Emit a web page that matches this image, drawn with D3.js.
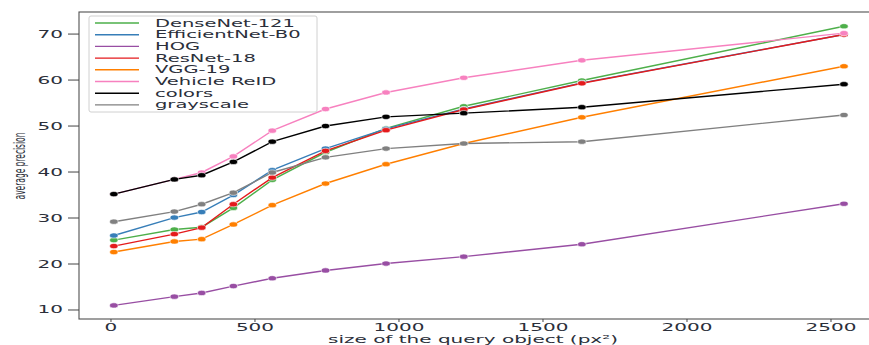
<!DOCTYPE html>
<html>
<head>
<meta charset="utf-8">
<script src="https://cdn.jsdelivr.net/npm/d3@7"></script>
<style>
  body { margin: 0; background: #fff; }
  text { font-family: "DejaVu Sans", sans-serif; fill: #2b2f3a; }
</style>
</head>
<body>
<script>
// query object sizes (px^2)
var sizes = [10, 220, 315, 425, 560, 745, 955, 1225, 1635, 2545];

var seriesNames = ["DenseNet-121", "EfficientNet-B0", "HOG", "ResNet-18", "VGG-19", "Vehicle ReID", "colors", "grayscale"];
var seriesColors = ["#4daf4a", "#377eb8", "#984ea3", "#e41a1c", "#ff7f00", "#f781bf", "#000000", "#808080"];

var denseNet = [25.2, 27.5, 28.0, 32.2, 38.3, 44.3, 49.5, 54.3, 59.9, 71.7];
var efficientNet = [26.2, 30.1, 31.3, 35.0, 40.4, 45.1, 49.4, 53.7, 59.4, 69.9];
var hog = [11.0, 12.9, 13.7, 15.2, 16.9, 18.6, 20.1, 21.6, 24.3, 33.1];
var resNet = [23.9, 26.5, 27.9, 33.0, 38.8, 44.6, 49.1, 53.6, 59.3, 69.9];
var vgg = [22.6, 24.9, 25.4, 28.6, 32.8, 37.5, 41.7, 46.2, 51.9, 63.0];
var vehicleReid = [35.2, 38.4, 39.9, 43.4, 49.0, 53.7, 57.3, 60.5, 64.3, 70.2];
var colorsFeat = [35.2, 38.4, 39.3, 42.2, 46.6, 50.0, 52.0, 52.8, 54.1, 59.1];
var grayscale = [29.2, 31.4, 33.0, 35.5, 39.9, 43.2, 45.1, 46.2, 46.6, 52.4];

var seriesValues = [denseNet, efficientNet, hog, resNet, vgg, vehicleReid, colorsFeat, grayscale];

var xTicks = [0, 500, 1000, 1500, 2000, 2500];
var yTicks = [10, 20, 30, 40, 50, 60, 70];

var W = 869, H = 345;
var plot = {left: 79, right: 867, top: 12, bottom: 319};
var stretch = 2; // figure is squashed: text looks twice as wide

var svg = d3.select("body").append("svg")
  .attr("width", W)
  .attr("height", H);

var x = d3.scaleLinear().domain([-111, 2625]).range([plot.left, plot.right]);
var y = d3.scaleLinear().domain([8.04, 74.8]).range([plot.bottom, plot.top]);

function wideText(g, px, py, k) {
  return g.append("text")
    .attr("transform", "translate(" + px + "," + py + ") scale(" + k + ",1)");
}

// frame (right spine falls just outside the picture)
svg.append("rect")
  .attr("x", plot.left).attr("y", plot.top)
  .attr("width", plot.right + 6 - plot.left).attr("height", plot.bottom - plot.top)
  .attr("fill", "none")
  .attr("stroke", "#505050")
  .attr("stroke-width", 1.1);

// y ticks
yTicks.forEach(function(t) {
  svg.append("line")
    .attr("x1", plot.left - 11).attr("x2", plot.left)
    .attr("y1", y(t)).attr("y2", y(t))
    .attr("stroke", "#444");
  wideText(svg, 63, y(t), stretch)
    .attr("text-anchor", "end")
    .attr("dy", "0.35em")
    .style("font-size", "10px")
    .text(t);
});

// x ticks
xTicks.forEach(function(t) {
  svg.append("line")
    .attr("x1", x(t)).attr("x2", x(t))
    .attr("y1", plot.bottom).attr("y2", plot.bottom + 3)
    .attr("stroke", "#444");
  wideText(svg, x(t), 327, stretch)
    .attr("text-anchor", "middle")
    .attr("dy", "0.35em")
    .style("font-size", "10px")
    .text(t);
});

// axis labels
wideText(svg, (plot.left + plot.right) / 2, 339.5, stretch)
  .attr("text-anchor", "middle")
  .attr("dy", "0.35em")
  .style("font-size", "10px")
  .text("size of the query object (px²)");

svg.append("text")
  .attr("transform", "translate(20,166) scale(" + stretch + ",1) rotate(-90)")
  .attr("text-anchor", "middle")
  .attr("dy", "0.35em")
  .style("font-size", "7.5px")
  .text("average precision");

// lines + markers
var line = d3.line()
  .x(function(d, i) { return x(sizes[i]); })
  .y(function(d) { return y(d); });

seriesValues.forEach(function(vals, s) {
  var g = svg.append("g");
  g.append("path")
    .datum(vals)
    .attr("d", line)
    .attr("fill", "none")
    .attr("stroke", seriesColors[s])
    .attr("stroke-width", 1.4);
  g.selectAll("ellipse")
    .data(vals)
    .enter().append("ellipse")
    .attr("cx", function(d, i) { return x(sizes[i]); })
    .attr("cy", function(d) { return y(d); })
    .attr("rx", 4.2)
    .attr("ry", 2.6)
    .attr("fill", seriesColors[s])
    .attr("stroke", "#fff")
    .attr("stroke-width", 0.6);
});

// legend
var lg = svg.append("g");
lg.append("rect")
  .attr("x", 89).attr("y", 16)
  .attr("width", 228).attr("height", 96)
  .attr("rx", 2)
  .attr("fill", "#fff")
  .attr("fill-opacity", 0.85)
  .attr("stroke", "#d0d0d0");

seriesNames.forEach(function(name, i) {
  var ly = 23 + i * 11.7;
  lg.append("line")
    .attr("x1", 95).attr("x2", 139)
    .attr("y1", ly).attr("y2", ly)
    .attr("stroke", seriesColors[i])
    .attr("stroke-width", 1.4);
  wideText(lg, 155, ly, 1.95)
    .attr("dy", "0.35em")
    .style("font-size", "10px")
    .text(name);
});
</script>
</body>
</html>
